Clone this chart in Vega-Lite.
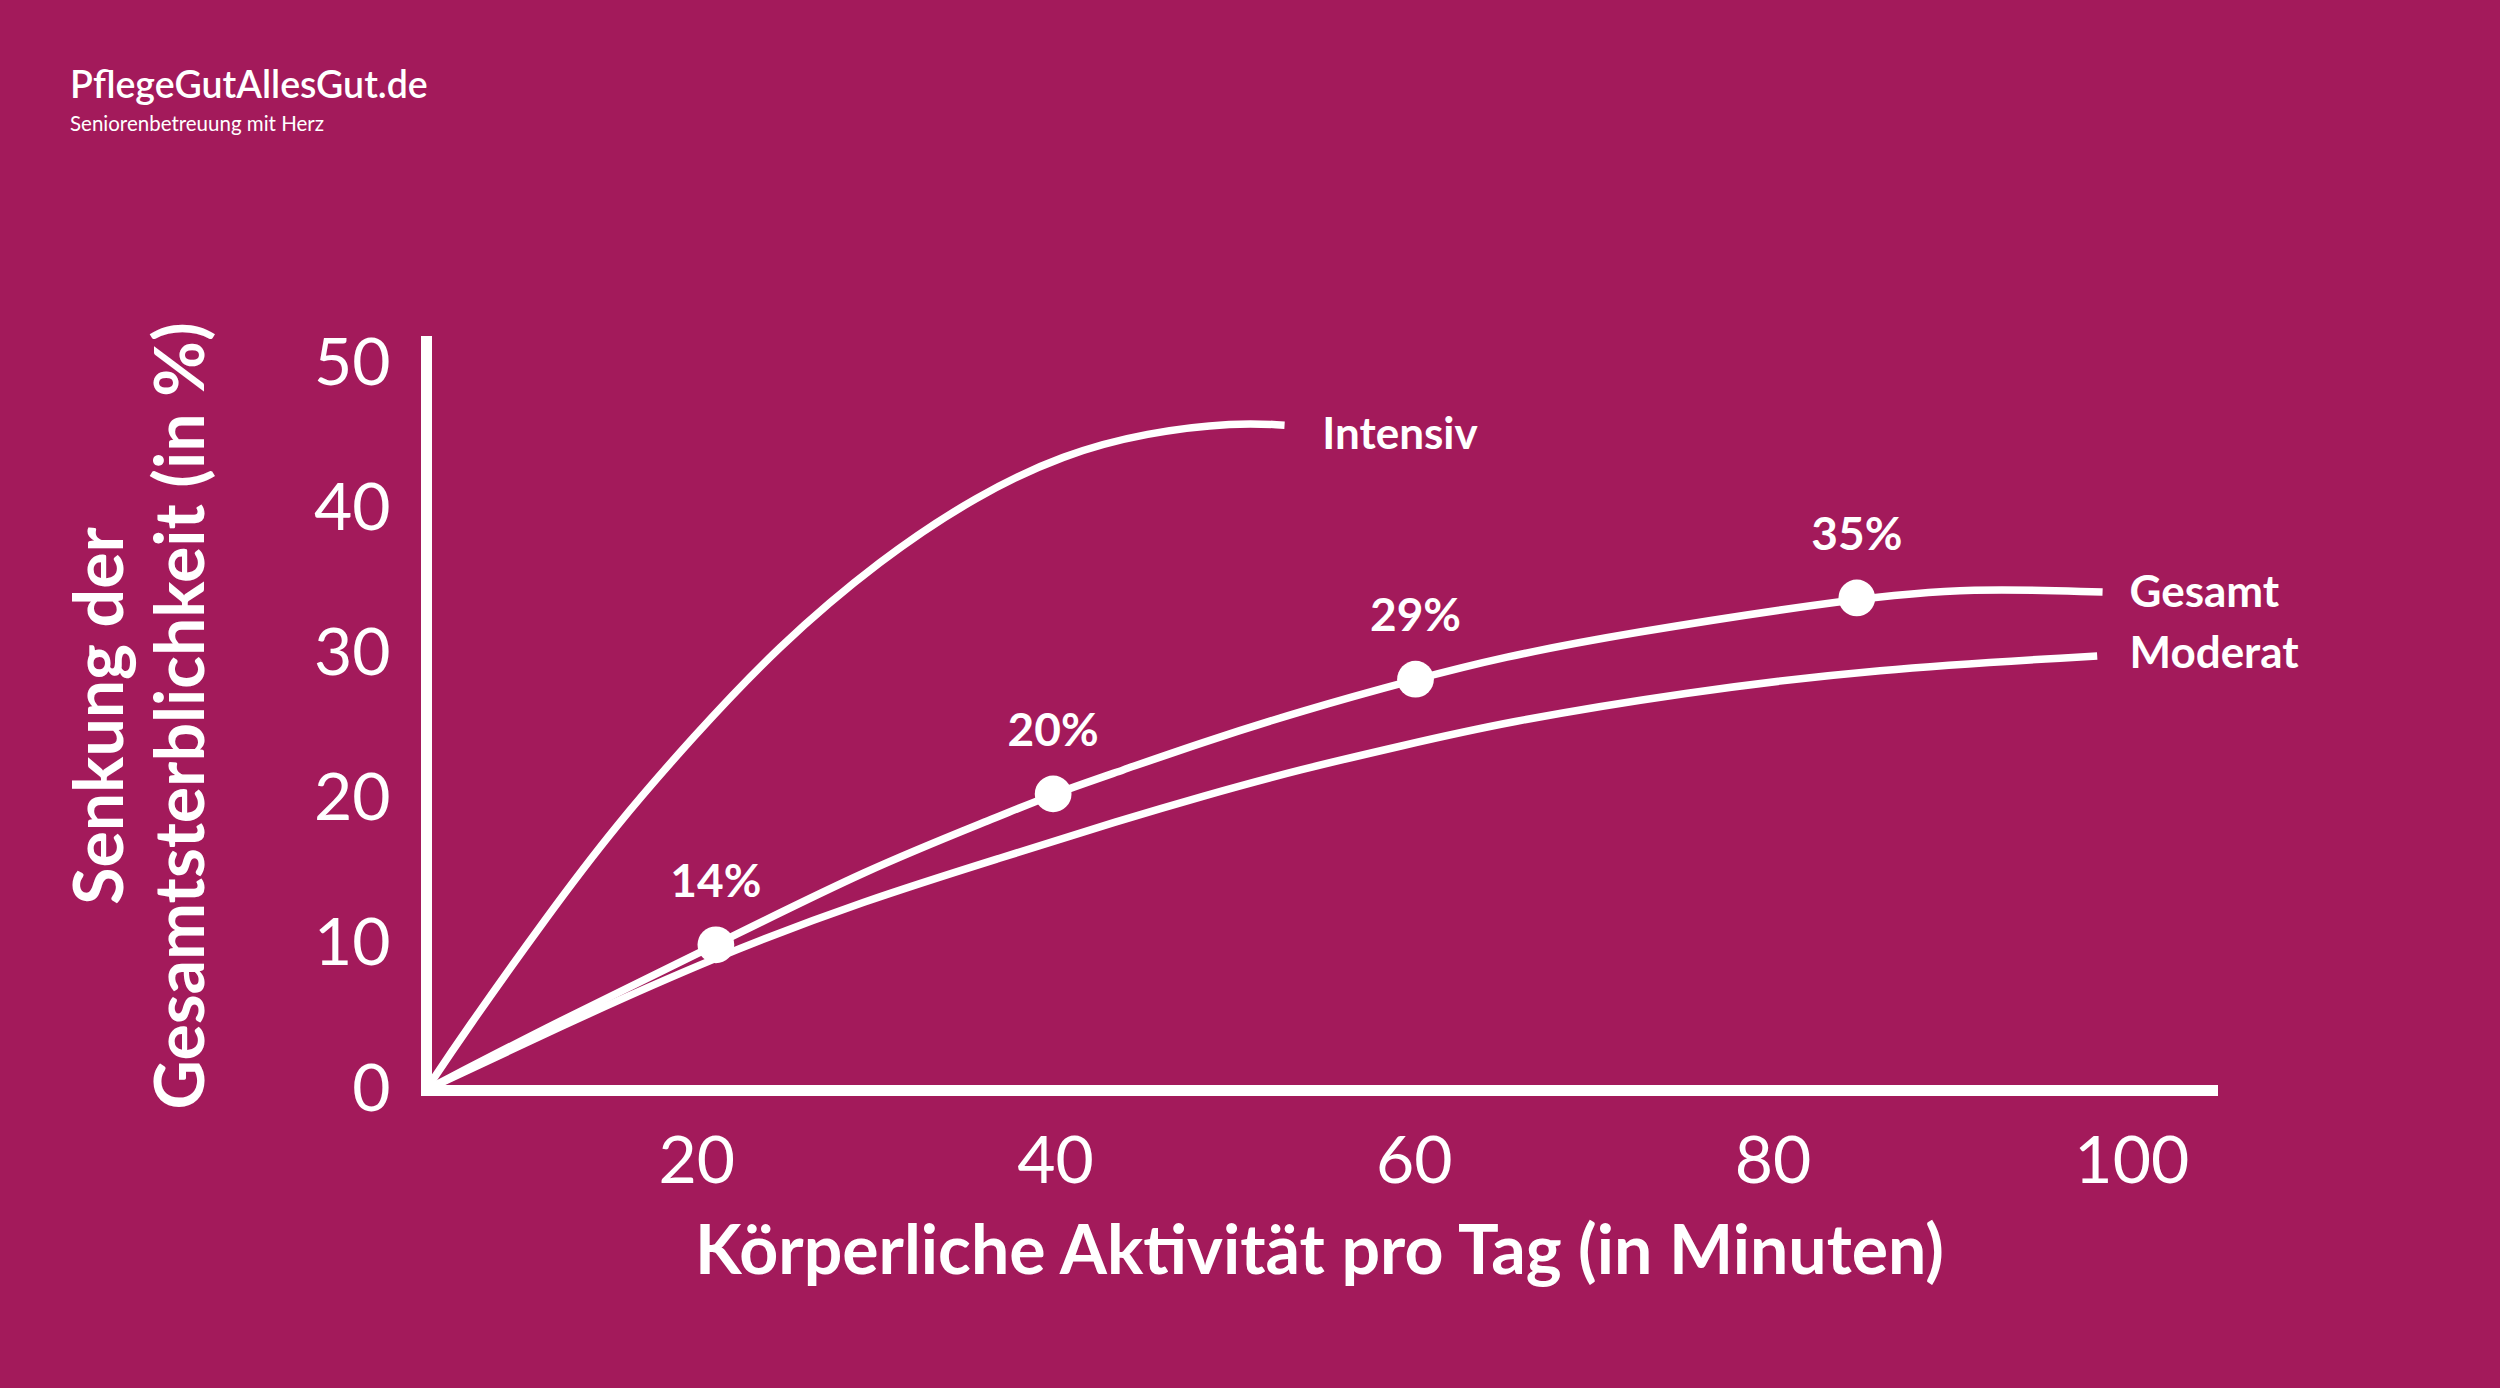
{
  "$schema": "https://vega.github.io/schema/vega-lite/v6.json",
  "width": 1786,
  "height": 749,
  "autosize": {"type": "none"},
  "padding": {"left": 426, "top": 341, "right": 288, "bottom": 298},
  "background": "#a31a5b",
  "config": {
    "font": "Lato",
    "view": {"stroke": null}
  },
  "title": {
    "text": "PflegeGutAllesGut.de",
    "subtitle": "Seniorenbetreuung mit Herz",
    "anchor": "start",
    "frame": "group",
    "dx": -356,
    "offset": 186,
    "color": "white",
    "subtitleColor": "white",
    "fontSize": 37.5,
    "fontWeight": 600,
    "subtitleFontSize": 20.5,
    "subtitleFontWeight": "normal",
    "subtitlePadding": 10
  },
  "datasets": {
    "curves": [
      {"serie": "Intensiv", "x": 4.94, "y": 0},
      {"serie": "Intensiv", "x": 7.1, "y": 4.0},
      {"serie": "Intensiv", "x": 11.7, "y": 12.0},
      {"serie": "Intensiv", "x": 15.5, "y": 18.2},
      {"serie": "Intensiv", "x": 19.8, "y": 24.3},
      {"serie": "Intensiv", "x": 24.5, "y": 30.5},
      {"serie": "Intensiv", "x": 30.3, "y": 36.6},
      {"serie": "Intensiv", "x": 35.7, "y": 41.0},
      {"serie": "Intensiv", "x": 40.5, "y": 43.8},
      {"serie": "Intensiv", "x": 45.1, "y": 45.3},
      {"serie": "Intensiv", "x": 50.1, "y": 46.0},
      {"serie": "Intensiv", "x": 52.8, "y": 45.8},
      {"serie": "Gesamt", "x": 4.94, "y": 0},
      {"serie": "Gesamt", "x": 12.1, "y": 4.6},
      {"serie": "Gesamt", "x": 21.1, "y": 10.0},
      {"serie": "Gesamt", "x": 29.5, "y": 15.2},
      {"serie": "Gesamt", "x": 37.0, "y": 18.9},
      {"serie": "Gesamt", "x": 39.9, "y": 20.4},
      {"serie": "Gesamt", "x": 43.7, "y": 22.0},
      {"serie": "Gesamt", "x": 48.1, "y": 23.9},
      {"serie": "Gesamt", "x": 53.7, "y": 26.1},
      {"serie": "Gesamt", "x": 60.1, "y": 28.3},
      {"serie": "Gesamt", "x": 64.9, "y": 29.8},
      {"serie": "Gesamt", "x": 71.5, "y": 31.4},
      {"serie": "Gesamt", "x": 84.7, "y": 33.9},
      {"serie": "Gesamt", "x": 91.1, "y": 34.6},
      {"serie": "Gesamt", "x": 98.4, "y": 34.3},
      {"serie": "Moderat", "x": 4.94, "y": 0},
      {"serie": "Moderat", "x": 12.1, "y": 4.2},
      {"serie": "Moderat", "x": 21.1, "y": 9.2},
      {"serie": "Moderat", "x": 29.5, "y": 13.1},
      {"serie": "Moderat", "x": 37.0, "y": 16.0},
      {"serie": "Moderat", "x": 43.7, "y": 18.6},
      {"serie": "Moderat", "x": 48.1, "y": 20.2},
      {"serie": "Moderat", "x": 53.7, "y": 22.1},
      {"serie": "Moderat", "x": 59.3, "y": 23.7},
      {"serie": "Moderat", "x": 64.9, "y": 25.3},
      {"serie": "Moderat", "x": 75.1, "y": 27.4},
      {"serie": "Moderat", "x": 85.7, "y": 29.0},
      {"serie": "Moderat", "x": 98.1, "y": 29.9}
    ],
    "dots": [
      {"x": 21.1, "y": 10.0, "label": "14%"},
      {"x": 39.9, "y": 20.4, "label": "20%"},
      {"x": 60.1, "y": 28.3, "label": "29%"},
      {"x": 84.7, "y": 33.9, "label": "35%"}
    ],
    "names": [
      {"serie": "Intensiv", "x": 54.9, "y": 45.05},
      {"serie": "Gesamt", "x": 99.9, "y": 34.15},
      {"serie": "Moderat", "x": 99.9, "y": 29.95}
    ]
  },
  "encoding": {
    "x": {
      "field": "x",
      "type": "quantitative",
      "scale": {"domain": [4.94, 104.5], "nice": false, "zero": false},
      "axis": {
        "values": [20, 40, 60, 80, 100],
        "grid": false,
        "ticks": false,
        "tickSize": 0,
        "domainColor": "white",
        "domainWidth": 11,
        "domainCap": "square",
        "labelColor": "white",
        "labelFontSize": 66,
        "labelFontWeight": "normal",
        "labelPadding": 40,
        "title": "Körperliche Aktivität pro Tag (in Minuten)",
        "titleColor": "white",
        "titleFontSize": 68,
        "titleFontWeight": "bold",
        "titlePadding": 24
      }
    },
    "y": {
      "field": "y",
      "type": "quantitative",
      "scale": {"domain": [0, 51.6], "nice": false},
      "axis": {
        "values": [0, 10, 20, 30, 40, 50],
        "grid": false,
        "ticks": false,
        "tickSize": 0,
        "domainColor": "white",
        "domainWidth": 11,
        "domainCap": "square",
        "labelColor": "white",
        "labelFontSize": 66,
        "labelFontWeight": "normal",
        "labelPadding": 36,
        "title": ["Senkung der", "Gesamtsterblichkeit (in %)"],
        "titleColor": "white",
        "titleFontSize": 68,
        "titleFontWeight": "bold",
        "titleLineHeight": 81,
        "titlePadding": 96
      }
    }
  },
  "layer": [
    {
      "data": {"name": "curves"},
      "mark": {"type": "line", "color": "white", "strokeWidth": 7.5, "interpolate": "basis", "strokeCap": "butt"},
      "encoding": {"detail": {"field": "serie", "type": "nominal"}}
    },
    {
      "data": {"name": "dots"},
      "mark": {"type": "point", "filled": true, "color": "white", "opacity": 1, "size": 1350, "shape": "circle"}
    },
    {
      "data": {"name": "dots"},
      "mark": {"type": "text", "color": "white", "fontSize": 46, "fontWeight": "bold", "dy": -62, "baseline": "middle"},
      "encoding": {"text": {"field": "label", "type": "nominal"}}
    },
    {
      "data": {"name": "names"},
      "mark": {"type": "text", "color": "white", "fontSize": 44, "fontWeight": "bold", "align": "left", "baseline": "middle"},
      "encoding": {"text": {"field": "serie", "type": "nominal"}}
    }
  ]
}
